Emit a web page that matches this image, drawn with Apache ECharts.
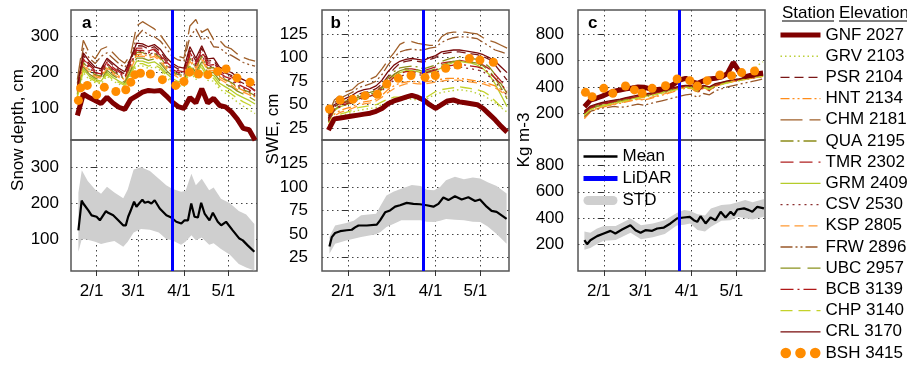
<!DOCTYPE html>
<html><head><meta charset="utf-8">
<script src="https://cdn.jsdelivr.net/npm/echarts@6/dist/echarts.min.js"></script>
<style>html,body{margin:0;padding:0;background:#fff}#c{width:907px;height:365px}</style>
</head><body><div id="c"></div>
<script>
// ---- axes / ticks (days since Feb 1) ----
const tickDays = [0, 28, 59, 89];
const tickLabels = ['2/1', '3/1', '4/1', '5/1'];
const lidarDay = 51;
const stationDays = [-13,-9,-5,-1,3,7,11,15,19,23,27,31,35,39,43,47,51,55,59,63,67,71,75,79,83,87,91,95,99,103,107];
const stations = ['GNF 2027','GRV 2103','PSR 2104','HNT 2134','CHM 2181','QUA 2195','TMR 2302','GRM 2409','CSV 2530','KSP 2805','FRW 2896','UBC 2957','BCB 3139','CHP 3140','CRL 3170'];

// ---- snow depth (cm) ----
const dGNF = [80,140,130,122,113,131,115,103,97,125,135,145,150,148,150,135,118,105,100,130,115,155,115,128,108,104,90,70,44,40,11];
const dGRV = [130,200,180,172,168,190,176,168,160,190,218,218,212,216,206,186,172,164,160,204,180,206,178,176,155,142,130,118,106,96,85];
const dPSR = [155,248,225,210,205,236,220,206,196,234,275,274,266,272,258,236,220,210,206,262,232,268,232,234,208,198,192,178,170,162,150];
const dHNT = [145,225,205,192,188,216,200,190,180,215,250,252,245,250,238,216,200,190,188,238,212,242,210,212,188,178,170,158,150,142,132];
const dCHM = [180,290,255,238,265,272,255,238,226,250,330,342,332,322,305,282,258,246,240,330,348,312,322,292,290,272,266,252,242,236,232];
const dQUA = [140,228,208,194,190,220,204,192,182,220,256,256,248,254,242,220,204,194,192,240,214,246,212,214,190,180,172,160,152,145,135];
const dTMR = [152,242,220,205,200,230,215,202,192,230,268,268,260,266,252,230,215,205,202,256,228,262,226,228,204,194,188,175,168,160,148];
const dGRM = [135,210,190,180,176,200,186,176,168,200,232,232,226,230,218,198,184,175,172,218,194,222,192,192,170,160,150,138,130,122,112];
const dCSV = [148,232,212,198,192,222,206,195,185,222,258,258,250,256,244,222,206,196,194,246,218,250,216,218,194,184,178,164,156,148,136];
const dKSP = [142,220,200,188,184,212,196,186,176,210,245,246,240,245,232,212,196,186,184,232,206,236,205,206,182,172,165,152,145,138,128];
const dFRW = [170,268,240,225,245,255,240,225,214,238,300,318,305,300,288,268,245,235,232,300,322,290,300,272,270,255,248,238,228,222,218];
const dUBC = [138,215,196,184,180,206,192,182,172,206,240,240,234,238,226,206,190,180,178,225,200,230,200,200,178,168,160,148,140,132,122];
const dBCB = [150,238,216,200,196,226,210,198,188,226,262,262,255,262,248,226,210,200,198,250,222,256,220,222,198,188,182,168,160,152,140];
const dCHP = [132,205,185,176,172,195,180,172,164,195,225,225,218,222,212,192,178,170,166,210,186,214,185,184,162,150,140,128,118,110,100];
const dCRL = [160,255,232,215,210,240,226,212,202,240,282,280,272,278,265,242,226,216,212,272,240,275,238,240,215,206,200,188,180,172,165];

// ---- SWE (cm) ----
const sGNF = [23,35,36,37,38,39,40,41,43,46,51,54,56,58,60,58,55,50,46,50,54,55,53,52,51,50,46,40,34,27,21];
const sGRV = [25,35,38,40,42,44,45,46,47,50,53,55,56,56,56,55,54,58,61,63,64,65,66,65,64,62,60,56,52,47,42];
const sPSR = [35,48,52,55,57,61,63,64,67,72,80,88,94,96,97,96,95,98,100,104,105,106,106,105,104,103,101,98,92,84,76];
const sHNT = [28,40,44,46,48,51,53,54,56,60,66,70,73,74,75,74,74,75,76,77,78,78,78,77,76,75,74,72,70,66,60];
const sCHM = [40,55,60,64,66,72,75,77,80,88,97,105,114,117,117,115,114,113,113,122,126,127,127,127,126,125,121,118,116,113,110];
const sQUA = [33,47,51,54,56,60,62,63,65,70,78,85,89,90,91,90,88,90,92,96,98,100,101,100,99,98,95,90,82,72,62];
const sTMR = [34,46,50,53,55,58,60,61,64,69,76,82,86,88,88,87,86,88,90,94,95,96,97,96,95,94,92,88,82,75,68];
const sGRM = [31,44,48,50,52,56,58,59,61,66,73,80,84,86,86,85,83,84,86,89,92,95,96,95,94,92,88,82,72,60,48];
const sCSV = [32,44,48,50,52,55,57,58,60,65,71,76,80,82,83,82,81,83,84,87,88,89,90,89,88,87,85,80,74,67,60];
const sKSP = [27,38,42,44,46,49,51,52,54,58,63,67,70,72,73,72,72,73,74,75,76,76,76,75,74,73,72,70,68,64,58];
const sFRW = [38,52,57,60,63,68,70,72,75,82,92,100,106,108,109,108,108,110,111,116,119,121,122,122,121,120,116,112,108,106,104];
const sUBC = [32,45,49,52,54,58,60,61,63,68,75,82,86,88,88,87,85,86,88,92,94,96,97,96,95,94,91,86,78,68,56];
const sBCB = [33,45,49,51,53,56,58,59,62,67,73,79,83,85,85,84,83,85,87,90,91,92,93,92,91,90,88,84,78,72,64];
const sCHP = [26,36,40,42,44,47,48,49,50,53,56,58,58,59,58,57,56,60,64,66,67,68,69,68,67,66,64,60,54,48,44];
const sCRL = [36,50,54,57,60,64,66,67,70,76,85,92,96,98,99,98,97,100,102,106,107,108,108,107,106,105,103,100,96,90,84];

// ---- density (kg m-3) ----
const rGNF = [250,300,314,330,350,368,377,385,392,400,398,385,378,385,395,420,452,465,440,427,445,460,465,475,500,585,515,478,488,500,505];
const rGRV = [180,224,240,252,262,274,282,292,302,312,320,330,340,350,360,372,382,390,390,366,394,380,406,418,430,442,452,470,500,560,590];
const rPSR = [210,250,265,278,288,296,305,314,324,334,340,348,358,368,378,390,402,410,405,375,408,385,420,430,440,452,458,468,475,482,488];
const rHNT = [160,210,230,245,258,268,276,286,296,306,300,312,325,338,350,365,380,390,388,355,390,372,405,418,430,440,448,456,464,472,478];
const rCHM = [220,245,260,270,280,292,300,310,320,330,340,350,358,368,378,390,400,405,400,380,410,395,420,430,440,450,455,465,470,480,485];
const rQUA = [200,240,256,268,278,290,298,308,318,328,336,346,356,366,376,388,398,406,404,380,408,395,420,432,442,452,460,472,480,488,495];
const rTMR = [205,245,262,275,285,293,302,312,322,332,338,346,356,366,376,388,400,408,402,370,404,380,416,428,438,450,456,466,472,480,486];
const rGRM = [190,232,248,260,270,282,290,300,310,320,328,338,348,358,368,380,390,398,396,372,400,386,412,424,434,444,452,462,470,478,486];
const rCSV = [198,236,254,266,276,286,294,304,314,324,330,338,348,358,368,382,394,402,395,360,396,370,408,420,432,444,450,458,466,474,480];
const rKSP = [165,215,234,248,260,270,280,290,300,310,305,318,330,342,355,370,385,395,392,362,394,376,408,420,432,442,450,458,466,474,480];
const rFRW = [175,215,230,240,245,252,245,250,260,270,262,272,285,295,305,318,330,340,345,320,350,340,370,385,400,410,420,430,440,450,460];
const rUBC = [195,236,252,264,274,286,294,304,314,324,332,342,352,362,372,384,394,402,400,376,404,390,416,428,438,448,456,468,476,484,490];
const rBCB = [200,240,258,270,280,290,298,308,318,328,335,343,353,363,373,385,398,405,398,365,400,375,412,424,436,448,454,462,470,478,484];
const rCHP = [185,228,244,256,266,278,286,296,306,316,324,334,344,354,364,376,386,394,392,368,396,382,408,420,430,440,448,458,466,474,482];
const rCRL = [215,255,270,282,292,300,308,318,328,338,345,352,362,372,382,395,405,412,410,390,412,400,425,435,445,455,460,470,478,485,490];

// ---- BSH 3415 (dots) ----
const bshDaysA = [-12.3,-10.8,-6.3,0,5.2,13,19.7,23.1,25.8,29.6,36.3,44.4,53.4,59,62.8,68.8,75.1,81.8,87.4,94.8,103.6];
const bshDepth = [122,157,164,138,159,147,152,173,194,198,196,180,164,175,201,196,194,203,210,185,173];
const bshDaysB = [-12.3,-5.1,3.4,11.6,19.9,26.2,34,42.5,51.9,58.8,65.8,73.8,81.7,88.8,97.8];
const bshSWE = [45.5,55,55.7,59.6,61,72,78,81,79,81,88.6,92,99,97.4,95];
const bshDaysC = [-12.3,-7.8,0,6.1,14.6,20.6,25.8,32.5,41.5,49.3,57.8,62.8,69.5,78,85.9,92.6,101.3];
const bshDens = [359,326,389,351,407,377,351,389,409,460,447,407,447,490,485,508,520];

// ---- Mean traces ----
const meanDaysA = [-12.3,-10.1,-9,-5.6,-3.4,0,2.2,3.4,6.3,7.8,11.2,14.6,17.9,19.7,21.3,22.9,24.2,25.3,26.9,28.7,30.9,32.5,34.8,37,39.2,42.6,47.1,50.4,53.8,57.2,59.4,61.7,63.9,66.1,68.4,70.6,72.9,76.2,78.5,81.8,84.1,87.4,91.9,96.4,98.7,102,106.5];
const meanDepth = [124,207,199,180,166,162,152,152,178,173,166,152,138,138,162,178,178,204,190,199,210,201,204,199,208,185,166,160,148,143,152,152,199,162,160,201,171,152,173,148,138,148,124,101,96,82,64];
const meanDaysB = [-12.3,-10.7,-8.5,-5.1,-0.7,2.7,4.9,7.2,12.8,19.5,21.7,25.1,28.4,31.8,35.1,39.6,44.1,48.5,53,57.5,60.9,64.2,67.6,72,76.5,81,85.5,88.8,93.3,96.6,100,106.7];
const meanSWE = [36.7,46.7,51,53,54,54.5,57,59,59,60,64.5,73,75,79,80.5,83,82,81.6,80.5,79,82,88.7,86,90,86.6,89,85,86.6,79,74.5,73.4,66];
const meanDaysC = [-13,-11.2,-9,-4.5,0,4.5,7.8,12.3,17.9,19.1,21.3,24.7,28,32.5,35.9,40.4,44.8,49.3,53.8,57.8,60.5,62.8,65,68.4,71.7,75.1,78.5,81.8,85.2,87.4,89.7,94.2,97.5,99.8,103.1,107.6];
const meanDens = [233,203,233,264,284,304,284,314,347,340,309,289,309,304,322,329,360,398,405,410,385,372,415,360,405,385,448,405,448,423,466,474,461,448,486,474];

// ---- STD bands ----
const bandDaysA = [-12.3,-10,-6,-1,3,7,12,18,21,25,30,36,42,47,51,57,60,64,67,71,76,79,84,90,96,101,106.5];
const bandUpA = [230,292,262,238,226,246,230,214,238,294,300,290,268,250,240,232,234,282,250,268,236,244,212,200,178,168,142];
const bandLoA = [64,100,98,92,86,90,94,78,92,118,128,126,118,100,96,84,92,110,96,104,84,88,72,56,30,20,12];
const bandDaysB = [-12.3,-8.5,-1,4,9,19,22,26,31,36,43,49,53,58,62,66,72,78,84,89,94,100,106.7];
const bandUpB = [47,59,61.6,64,70,71.6,80,91,95,98,102,101,97,96.5,100,107,110.8,108,110,109,105,101,93];
const bandLoB = [29,39.6,43,45,46.7,49.6,52,57.4,61,64.5,64.5,64.5,63,62.7,64,66,65,64.5,63,62.7,58,50,39.6];
const bandDaysC = [-13,-9,-4.5,0,8,18,25,33,41,49,54,58,63,68,72,79,85,90,95,100,107.6];
const bandUpC = [300,290,322,340,340,398,347,360,385,440,461,455,430,420,474,500,505,520,537,520,545];
const bandLoC = [160,175,205,230,235,290,240,255,280,345,350,360,310,300,335,380,385,410,400,390,410];

// ---- styles ----
const FONT = 'Liberation Sans, Arial, sans-serif';
const BAND = '#cfcfcf';
const stStyles = [
  {color:'#800000', width:5, type:'solid'},
  {color:'#BCD03A', width:1.4, type:[1.5,3]},
  {color:'#7A1616', width:1.3, type:[9,5]},
  {color:'#FF8C1A', width:1.3, type:[9,3,2,3,2,3]},
  {color:'#A0602A', width:1.3, type:[22,7]},
  {color:'#8C8C1A', width:1.3, type:[13,4,2,4]},
  {color:'#B02020', width:1.3, type:[13,6]},
  {color:'#B5CC2A', width:1.3, type:'solid'},
  {color:'#8B2F2F', width:1.3, type:[2,4]},
  {color:'#FF9933', width:1.3, type:[9,5]},
  {color:'#99582A', width:1.3, type:[12,3,2,3,2,3]},
  {color:'#8A921E', width:1.3, type:[20,7]},
  {color:'#B01818', width:1.3, type:[13,4,2,4]},
  {color:'#C4D22A', width:1.3, type:[12,6]},
  {color:'#780A0A', width:1.3, type:'solid'}
];
const depthArr = [dGNF,dGRV,dPSR,dHNT,dCHM,dQUA,dTMR,dGRM,dCSV,dKSP,dFRW,dUBC,dBCB,dCHP,dCRL];
const sweArr = [sGNF,sGRV,sPSR,sHNT,sCHM,sQUA,sTMR,sGRM,sCSV,sKSP,sFRW,sUBC,sBCB,sCHP,sCRL];
const densArr = [rGNF,rGRV,rPSR,rHNT,rCHM,rQUA,rTMR,rGRM,rCSV,rKSP,rFRW,rUBC,rBCB,rCHP,rCRL];

const zip = (xs, ys) => xs.map((x, i) => [x, ys[i]]);

const gridDefs = [
  {left:71, top:10, width:186, height:130},
  {left:71, top:140, width:186, height:131},
  {left:322, top:10, width:187, height:130},
  {left:322, top:140, width:187, height:131},
  {left:578, top:10, width:187, height:130},
  {left:578, top:140, width:187, height:131}
];
const yDefs = [
  {min:11.5, max:374.6, ticks:[100,200,300], margin:12},
  {min:10.4, max:376.5, ticks:[100,200,300], margin:12},
  {min:12.6, max:150.4, ticks:[25,50,75,100,125], margin:14},
  {min:10.7, max:149.8, ticks:[25,50,75,100,125], margin:14},
  {min:-1.7, max:981.6, ticks:[200,400,600,800], margin:14},
  {min:0, max:992, ticks:[200,400,600,800], margin:14}
];

const grid = gridDefs.map(g => Object.assign({show:true, borderColor:'#555', borderWidth:1.5, backgroundColor:'transparent', outerBoundsMode:'none', containLabel:false}, g));
const xAxis = gridDefs.map((g, i) => {
  const bottom = i % 2 === 1;
  return {
    type:'value', gridIndex:i, min:-17.3, max:108.3,
    axisLine:{show:false},
    axisTick:{show:bottom, customValues:tickDays, length:5, lineStyle:{color:'#333', width:1}},
    axisLabel:{show:bottom, customValues:tickDays, margin:12, fontSize:17, fontFamily:FONT, color:'#000',
      padding:[0,10,0,0], formatter: v => tickLabels[tickDays.indexOf(Math.round(v))] || ''},
    splitLine:{show:true, lineStyle:{color:'#444', width:1, type:[1.5,3.5]}}
  };
});
const yAxis = yDefs.map((y, i) => ({
  type:'value', gridIndex:i, min:y.min, max:y.max,
  axisLine:{show:false},
  axisTick:{show:true, customValues:y.ticks, length:6, lineStyle:{color:'#333', width:1}},
  axisLabel:{show:true, customValues:y.ticks, margin:y.margin, fontSize:17, fontFamily:FONT, color:'#000'},
  splitLine:{show:true, lineStyle:{color:'#444', width:1, type:[1.5,3.5]}}
}));

const series = [];
function addStations(gi, arrs, bDays, bVals) {
  arrs.forEach((arr, i) => {
    const st = stStyles[i];
    series.push({type:'line', name:stations[i], xAxisIndex:gi, yAxisIndex:gi,
      data: zip(stationDays, arr), symbol:'none', showSymbol:false, silent:true, z: i === 0 ? 4 : 3,
      lineStyle:{color:st.color, width:st.width, type:st.type}, itemStyle:{color:st.color}});
  });
  series.push({type:'scatter', name:'BSH 3415', xAxisIndex:gi, yAxisIndex:gi, data: zip(bDays, bVals),
    symbol:'circle', symbolSize:9, itemStyle:{color:'#FF8C00', opacity:1}, silent:true, z:5});
}
function addLidar(gi) {
  series.push({type:'line', name:'LiDAR', xAxisIndex:gi, yAxisIndex:gi, data:[], symbol:'none', showSymbol:false, z:6,
    lineStyle:{color:'#0000FF', width:4}, itemStyle:{color:'#0000FF'},
    markLine:{silent:true, symbol:['none','none'], label:{show:false}, animation:false,
      lineStyle:{color:'#0000FF', width:3, type:'solid'}, data:[{xAxis:lidarDay}]}});
}
function addBottom(gi, bd, lo, up, md, mv) {
  series.push({type:'custom', name:'STD', xAxisIndex:gi, yAxisIndex:gi, silent:true, z:1,
    data: bd.map((d, k) => [d, lo[k], up[k]]),
    encode:{x:0, y:[1,2]},
    itemStyle:{color:BAND},
    renderItem: (params, api) => {
      if (params.dataIndex !== 0) return null;
      const pts = [];
      for (let k = 0; k < bd.length; k++) pts.push(api.coord([bd[k], up[k]]));
      for (let k = bd.length - 1; k >= 0; k--) pts.push(api.coord([bd[k], lo[k]]));
      return {type:'polygon', shape:{points:pts}, style:{fill:BAND, stroke:null}};
    }});
  series.push({type:'line', name:'Mean', xAxisIndex:gi, yAxisIndex:gi, data: zip(md, mv), symbol:'none', showSymbol:false, silent:true, z:3,
    lineStyle:{color:'#000', width:2.2}, itemStyle:{color:'#000'}});
}
addStations(0, depthArr, bshDaysA, bshDepth);
addStations(2, sweArr, bshDaysB, bshSWE);
addStations(4, densArr, bshDaysC, bshDens);
addBottom(1, bandDaysA, bandLoA, bandUpA, meanDaysA, meanDepth);
addBottom(3, bandDaysB, bandLoB, bandUpB, meanDaysB, meanSWE);
addBottom(5, bandDaysC, bandLoC, bandUpC, meanDaysC, meanDens);
for (let g = 0; g < 6; g++) addLidar(g);

const bshIcon = 'path://M0,4.5a4.5,4.5 0 1,0 9,0a4.5,4.5 0 1,0 -9,0zM12.5,4.5a4.5,4.5 0 1,0 9,0a4.5,4.5 0 1,0 -9,0zM25,4.5a4.5,4.5 0 1,0 9,0a4.5,4.5 0 1,0 -9,0z';
const capsuleIcon = 'path://M4.5,0L29.5,0A4.5,4.5 0 0 1 29.5,9L4.5,9A4.5,4.5 0 0 1 4.5,0Z';
const txt = {fontSize:17, fontFamily:FONT, color:'#000', lineHeight:17};

const option = {
  animation:false,
  backgroundColor:'#fff',
  grid, xAxis, yAxis, series,
  legend:[
    {orient:'vertical', left:778, top:26.5, itemWidth:40, itemHeight:14, itemGap:4.2, selectedMode:false,
      textStyle:txt, padding:0, itemStyle:{opacity:0},
      data: stations.map((n, i) => ({name:n, lineStyle:{width:stStyles[i].width}}))
        .concat([{name:'BSH 3415', icon:bshIcon, itemStyle:{opacity:1, color:'#FF8C00'}}])},
    {orient:'vertical', left:581, top:148, itemWidth:34, itemHeight:14, itemGap:5, selectedMode:false,
      textStyle:txt, padding:0, itemStyle:{opacity:0},
      data:[{name:'Mean', lineStyle:{width:2.5}}, {name:'LiDAR', lineStyle:{width:5}},
            {name:'STD', icon:capsuleIcon, itemStyle:{color:BAND, opacity:1}}]}
  ],
  graphic:[
    {type:'text', left:82, top:15, style:{text:'a', font:'bold 17px '+FONT, fill:'#000'}},
    {type:'text', left:330.5, top:15, style:{text:'b', font:'bold 17px '+FONT, fill:'#000'}},
    {type:'text', left:588, top:15, style:{text:'c', font:'bold 17px '+FONT, fill:'#000'}},
    {type:'text', x:18.5, y:130, rotation:Math.PI/2, style:{text:'Snow depth, cm', font:'17px '+FONT, fill:'#000', align:'center', verticalAlign:'middle'}},
    {type:'text', x:273.5, y:129, rotation:Math.PI/2, style:{text:'SWE, cm', font:'17px '+FONT, fill:'#000', align:'center', verticalAlign:'middle'}},
    {type:'text', x:524, y:140, rotation:Math.PI/2, style:{text:'Kg m-3', font:'17px '+FONT, fill:'#000', align:'center', verticalAlign:'middle'}},
    {type:'text', x:782, y:13.5, style:{text:'Station', font:'17px '+FONT, fill:'#000', align:'left', verticalAlign:'middle'}},
    {type:'text', x:839, y:13.5, style:{text:'Elevation', font:'17px '+FONT, fill:'#000', align:'left', verticalAlign:'middle'}},
    {type:'line', shape:{x1:782, y1:21, x2:834, y2:21}, style:{stroke:'#000', lineWidth:1.2}},
    {type:'line', shape:{x1:839, y1:21, x2:907, y2:21}, style:{stroke:'#000', lineWidth:1.2}}
  ]
};
const chart = echarts.init(document.getElementById('c'), null, {renderer:'canvas'});
chart.setOption(option);
</script>
</body></html>
